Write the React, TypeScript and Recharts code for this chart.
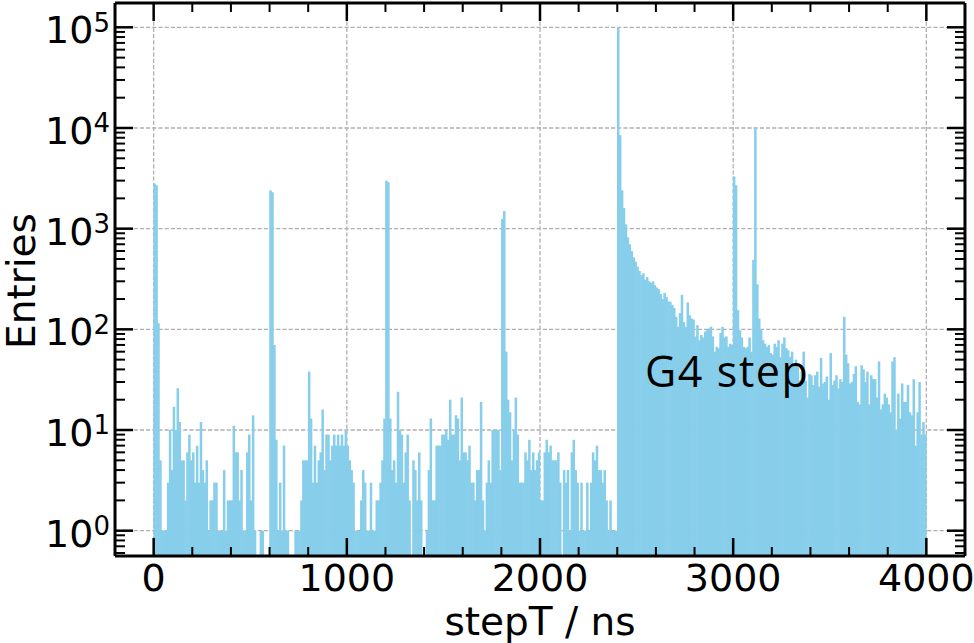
import React from "react";
import { Bar, BarChart, CartesianGrid, XAxis, YAxis } from "recharts";

// entries per 10 ns bin of stepT in 600 ns chunks
const binWidthNs = 10;

const counts0to590 = [
  2800, 2700, 115, 5, 1, 1, 1, 3, 10, 4,
  17, 10, 26, 12, 5, 5, 2, 6, 9, 5,
  6, 3, 7, 3, 12, 4, 3, 5, 1, 2,
  2, 3, 3, 1, 1, 1, 4, 1, 2, 2,
  2, 11, 6, 6, 2, 4, 1, 1, 6, 9,
  2, 14, 1, 0, 0, 1, 1, 0, 0, 0,
];

const counts600to1190 = [
  2400, 2300, 70, 8, 1, 3, 1, 7, 1, 1,
  0, 0, 0, 1, 1, 1, 2, 5, 5, 5,
  38, 13, 3, 7, 3, 5, 6, 16, 4, 9,
  9, 5, 7, 9, 7, 9, 7, 9, 7, 10,
  7, 5, 4, 3, 1, 1, 1, 2, 4, 3,
  1, 1, 3, 1, 1, 2, 2, 3, 5, 13,
];

const counts1200to1790 = [
  3000, 2900, 13, 4, 5, 3, 24, 10, 9, 3,
  6, 9, 2, 0, 5, 4, 2, 6, 2, 0,
  0, 1, 4, 13, 2, 2, 7, 7, 7, 9,
  9, 10, 8, 20, 9, 9, 14, 13, 5, 21,
  6, 6, 5, 7, 3, 3, 2, 4, 4, 19,
  2, 1, 3, 5, 3, 10, 10, 10, 10, 4,
];

const counts1800to2390 = [
  1250, 1500, 60, 20, 15, 5, 10, 21, 9, 3,
  3, 3, 6, 5, 8, 4, 6, 4, 5, 6,
  2, 2, 6, 8, 6, 7, 5, 5, 5, 6,
  3, 0, 4, 3, 4, 1, 6, 8, 4, 3,
  1, 3, 1, 1, 3, 1, 3, 6, 5, 7,
  4, 4, 3, 4, 2, 1, 2, 1, 1, 1,
];

const counts2400to2990 = [
  100000, 8500, 2400, 1600, 1100, 820, 700, 600, 520, 470,
  420, 380, 345, 360, 310, 330, 300, 290, 300, 275,
  260, 250, 225, 200, 230, 210, 190, 188, 175, 163,
  133, 106, 145, 220, 118, 106, 185, 138, 128, 125,
  85, 110, 78, 88, 83, 95, 98, 102, 106, 85,
  60, 67, 65, 92, 106, 83, 85, 67, 72, 70,
];

const counts3000to3590 = [
  3300, 2700, 155, 98, 83, 67, 65, 67, 83, 60,
  490, 10000, 280, 128, 98, 78, 72, 67, 70, 58,
  56, 72, 67, 78, 53, 72, 83, 65, 62, 53,
  60, 45, 50, 42, 31, 38, 60, 31, 21, 36,
  35, 28, 35, 38, 27, 52, 29, 30, 34, 20,
  58, 28, 31, 35, 26, 32, 30, 133, 56, 46,
];

const counts3600to3990 = [
  29, 30, 36, 43, 19, 18, 44, 40, 30, 38,
  18, 35, 32, 32, 21, 48, 16, 18, 23, 21,
  18, 15, 48, 53, 10, 23, 13, 29, 19, 19,
  28, 15, 14, 32, 7, 15, 30, 9, 12, 9,
];

const xMajorTicks = [0, 1000, 2000, 3000, 4000];
const xMinorTicks = [
  200, 400, 600, 800, 1200, 1400, 1600, 1800, 2200, 2400, 2600, 2800,
  3200, 3400, 3600, 3800,
];
const yMajorTicks = [1, 10, 100, 1000, 10000, 100000];
const yMinorTicks = [
  0.6, 0.7, 0.8, 0.9,
  2, 3, 4, 5, 6, 7, 8, 9,
  20, 30, 40, 50, 60, 70, 80, 90,
  200, 300, 400, 500, 600, 700, 800, 900,
  2000, 3000, 4000, 5000, 6000, 7000, 8000, 9000,
  20000, 30000, 40000, 50000, 60000, 70000, 80000, 90000,
];

const allCounts = [
  ...counts0to590,
  ...counts600to1190,
  ...counts1200to1790,
  ...counts1800to2390,
  ...counts2400to2990,
  ...counts3000to3590,
  ...counts3600to3990,
];

// empty bins are left out, a log axis has no place for them
const rows = allCounts
  .map((n, i) => ({ t: i * binWidthNs + binWidthNs / 2, n }))
  .filter((r) => r.n > 0);

const xDomain = [-200, 4200];
const yDomain = [0.5608, 174300];
const axisFont = "'DejaVu Sans', sans-serif";
const frame = { stroke: "#000", strokeWidth: 3 };
// axes get a hair of thickness: recharts skips an axis that is 0 wide
const thin = 0.01;

// tickSize is 0, so x/y arrive on the frame itself; the mark is drawn inwards from there
function TickMark({ x, y, payload, side, len, label }: any) {
  let x2 = x;
  let y2 = y;
  if (side === "bottom") y2 = y - len;
  if (side === "top") y2 = y + len;
  if (side === "left") x2 = x + len;
  if (side === "right") x2 = x - len;
  const sw = len > 12 ? 2.5 : 2;
  return (
    <g>
      <line x1={x} y1={y} x2={x2} y2={y2} stroke="#000" strokeWidth={sw} />
      {label === "plain" && (
        <text x={x} y={y + 35.5} textAnchor="middle" fontFamily={axisFont} fontSize={38} fill="#000">
          {payload.value}
        </text>
      )}
      {label === "power" && (
        <text x={x - 5} y={y + 16} textAnchor="end" fontFamily={axisFont} fontSize={38} fill="#000">
          10
          <tspan dy={-11.6} fontSize={26}>
            {Math.round(Math.log10(payload.value))}
          </tspan>
        </text>
      )}
    </g>
  );
}

// widen each bin a little so neighbouring bins close up like a filled histogram
function BinRect(props: any) {
  const { x, y, width, height } = props;
  if (!height || height <= 0) return null;
  return <rect x={x - 0.3} y={y} width={width + 0.6} height={height} fill="#87CEEB" />;
}

function xAxisProps(id: string, side: "top" | "bottom", ticks: number[], len: number, label?: string) {
  return {
    xAxisId: id,
    orientation: side,
    dataKey: "t",
    type: "number" as const,
    domain: xDomain,
    allowDataOverflow: true,
    ticks,
    interval: 0,
    height: thin,
    tickSize: 0,
    tickMargin: 0,
    tickLine: false,
    tick: <TickMark side={side} len={len} label={label} />,
  };
}

function yAxisProps(id: string, side: "left" | "right", ticks: number[], len: number, label?: string) {
  return {
    yAxisId: id,
    orientation: side,
    type: "number" as const,
    scale: "log" as const,
    domain: yDomain,
    allowDataOverflow: true,
    ticks,
    interval: 0,
    width: thin,
    tickSize: 0,
    tickMargin: 0,
    tickLine: false,
    tick: <TickMark side={side} len={len} label={label} />,
  };
}

export default function App() {
  return (
    <div style={{ position: "absolute", left: 0, top: 0, width: 974, height: 643, background: "#fff" }}>
      <BarChart
        width={974}
        height={643}
        data={rows}
        margin={{ top: 3, right: 9, bottom: 87, left: 115 }}
        barCategoryGap={0}
        barGap={0}
      >
        <Bar
          xAxisId="x"
          yAxisId="y"
          dataKey="n"
          fill="#87CEEB"
          barSize={1.93}
          shape={<BinRect />}
          isAnimationActive={false}
        />
        <CartesianGrid
          xAxisId="x"
          yAxisId="y"
          stroke="#b0b0b0"
          strokeWidth={1.3}
          strokeDasharray="4.2 2"
        />
        <XAxis {...xAxisProps("x", "bottom", xMajorTicks, 18, "plain")} axisLine={frame} />
        <XAxis {...xAxisProps("xMinor", "bottom", xMinorTicks, 9)} axisLine={false} />
        <XAxis {...xAxisProps("xTop", "top", xMajorTicks, 18)} axisLine={frame} />
        <XAxis {...xAxisProps("xTopMinor", "top", xMinorTicks, 9)} axisLine={false} />
        <YAxis {...yAxisProps("y", "left", yMajorTicks, 18, "power")} axisLine={frame} />
        <YAxis {...yAxisProps("yMinor", "left", yMinorTicks, 10)} axisLine={false} />
        <YAxis {...yAxisProps("yRight", "right", yMajorTicks, 18)} axisLine={frame} />
        <YAxis {...yAxisProps("yRightMinor", "right", yMinorTicks, 10)} axisLine={false} />
      </BarChart>
      <svg
        width={974}
        height={643}
        style={{ position: "absolute", left: 0, top: 0, pointerEvents: "none" }}
      >
        <text
          x={35}
          y={281}
          transform="rotate(-90 35 281)"
          textAnchor="middle"
          fontFamily={axisFont}
          fontSize={39}
          fill="#000"
        >
          Entries
        </text>
        <text x={540} y={635} textAnchor="middle" fontFamily={axisFont} fontSize={39} fill="#000">
          stepT / ns
        </text>
        <text
          x={645}
          y={387}
          fontFamily="'Open Sans', sans-serif"
          fontSize={43}
          letterSpacing={1.6}
          fill="#000"
        >
          G4 step
        </text>
      </svg>
    </div>
  );
}
